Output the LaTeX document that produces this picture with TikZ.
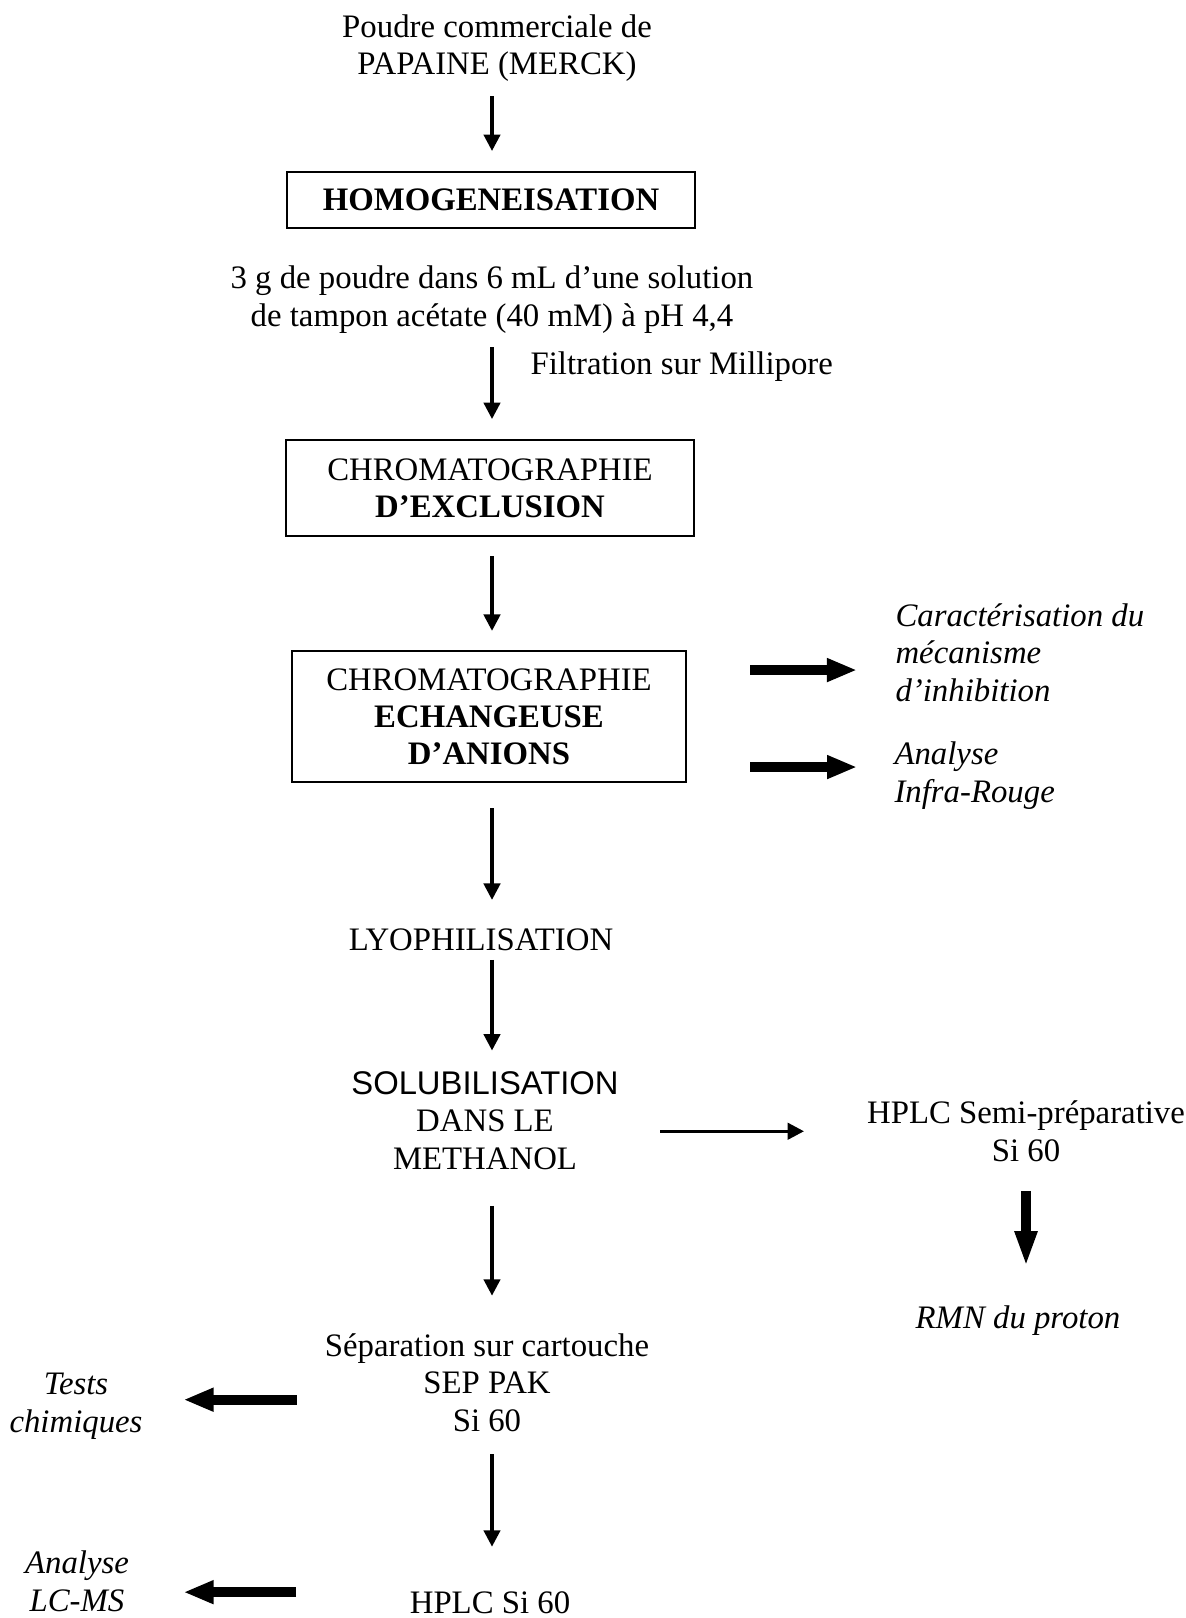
\documentclass[tikz,border=0pt]{standalone}
\usepackage{fontspec}
\setmainfont{Liberation Serif}
\setsansfont{Liberation Sans}
\usetikzlibrary{arrows.meta}

\begin{document}
\begin{tikzpicture}[
   x=0.366pt,y=-0.366pt,
   box/.style={draw,line width=0.8pt,align=center,inner sep=0pt},
   txt/.style={align=center,inner sep=0pt,anchor=base},
   note/.style={inner sep=0pt,font=\fontsize{12}{13.55}\selectfont\itshape},
   flow/.style={line width=1.2pt,-{Triangle[length=6pt,width=6pt]}},
   bigflow/.style={line width=3.8pt,-{Triangle[length=11pt,width=8pt]}},
   every node/.style={font=\fontsize{12}{13.55}\selectfont}
 ]
  \useasboundingbox (0,0) rectangle (1186,1618);
  \coordinate (spine) at (492,0);

  % main column (base = last line)
  \node[txt] (title) at (497,75) {Poudre commerciale de\\PAPAINE (MERCK)};
  \node[box,minimum width=149.3pt,minimum height=20.5pt] (homog) at (491,200) {\textbf{HOMOGENEISATION}};
  \node[txt] (tampon) at (492,326) {3 g de poudre dans 6 mL d’une solution\\de tampon acétate (40 mM) à pH 4,4};
  \node[inner sep=0pt,anchor=base west] (filtre) at (530,374) {Filtration sur Millipore};
  \node[box,minimum width=149.3pt,minimum height=35.1pt] (exclu) at (490,488) {CHROMATOGRAPHIE\\\textbf{D’EXCLUSION}};
  \node[box,minimum width=144.2pt,minimum height=47.9pt] (echange) at (489,716.5) {CHROMATOGRAPHIE\\\textbf{ECHANGEUSE}\\\textbf{D’ANIONS}};
  \node[txt] (lyo) at (481,950) {LYOPHILISATION};
  \node[txt] (solub) at (485,1169) {{\sffamily SOLUBILISATION}\\DANS LE\\METHANOL};
  \node[txt] (sep) at (487,1431) {Séparation sur cartouche\\SEP PAK\\Si 60};
  \node[txt] (hplc) at (490,1613) {HPLC Si 60};

  % side branches
  \node[note,align=left,anchor=base west] (meca) at (895,701) {Caractérisation du\\mécanisme\\d’inhibition};
  \node[note,align=left,anchor=base west] (infra) at (894,802) {Analyse\\Infra-Rouge};
  \node[txt] (semi) at (1026,1161) {HPLC Semi-préparative\\Si 60};
  \node[note,anchor=base] (rmn) at (1018,1328) {RMN du proton};
  \node[note,align=center,anchor=base] (tests) at (76,1432) {Tests\\chimiques};
  \node[note,align=center,anchor=base] (lcms) at (77,1611) {Analyse\\LC-MS};

  \draw[flow,shorten <=5.1pt,shorten >=7.3pt] (title.south -| spine) -- (homog.north -| spine);
  \draw[flow,shorten <=5.1pt,shorten >=7.3pt] (tampon.south -| spine) -- (exclu.north -| spine);
  \draw[flow,shorten <=7pt,shorten >=7pt] (exclu.south -| spine) -- (echange.north -| spine);
  \draw[flow,shorten <=9.2pt,shorten >=10.2pt] (echange.south -| spine) -- (lyo.north -| spine);
  \draw[flow,shorten <=3.3pt,shorten >=7.7pt] (lyo.south -| spine) -- (solub.north -| spine);
  \draw[flow,shorten <=13.2pt,shorten >=13.9pt] (solub.south -| spine) -- (sep.north -| spine);
  \draw[flow,shorten <=8.1pt,shorten >=16.1pt] (sep.south -| spine) -- (hplc.north -| spine);
  \draw[flow,shorten <=15pt,shorten >=22.9pt] (solub.east |- semi.west) -- (semi.west);

  \draw[bigflow,shorten <=10.6pt,shorten >=13.9pt,-{Triangle[length=13pt,width=7.5pt]}] (semi.south) -- (rmn.north -| semi.south);
  \draw[bigflow,shorten <=23.1pt,shorten >=13.9pt] ([yshift=17pt]echange.east) -- ([yshift=17pt]echange.east -| meca.west);
  \draw[bigflow,shorten <=23.1pt,shorten >=13.5pt] ([yshift=-18.5pt]echange.east) -- ([yshift=-18.5pt]echange.east -| infra.west);
  \draw[bigflow,shorten <=10.2pt,shorten >=14.8pt] ([yshift=-6.2pt]sep.west) -- ([yshift=-6.2pt]sep.west -| tests.east);
  \draw[bigflow,shorten <=41.4pt,shorten >=19.8pt] ([yshift=3.7pt]hplc.west) -- ([yshift=3.7pt]hplc.west -| lcms.east);
\end{tikzpicture}
\end{document}
